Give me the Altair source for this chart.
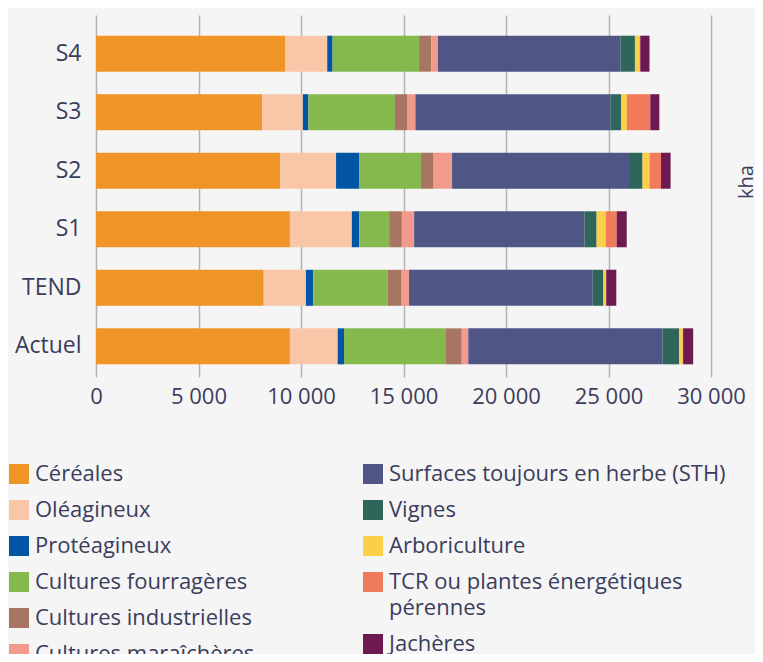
import altair as alt
import pandas as pd

scenarios = ["S4", "S3", "S2", "S1", "TEND", "Actuel"]
cultures = [
    "Céréales", "Oléagineux", "Protéagineux", "Cultures fourragères",
    "Cultures industrielles", "Cultures maraîchères",
    "Surfaces toujours en herbe (STH)", "Vignes", "Arboriculture",
    "TCR ou plantes énergétiques pérennes", "Jachères",
]
colors = ["#EF9528", "#F9C6A8", "#0055A4", "#86B94D", "#A87563", "#F29A8C",
          "#4F5585", "#2E6659", "#FAD04B", "#F07B5A", "#6D1A50"]

# values (kha) for S4, S3, S2, S1, TEND, Actuel
cereales = [9220, 8100, 8980, 9460, 8180, 9460]
oleagineux = [2060, 1990, 2730, 3020, 2060, 2330]
proteagineux = [260, 270, 1140, 360, 360, 310]
fourrageres = [4220, 4220, 3000, 1460, 3630, 4940]
industrielles = [600, 620, 620, 620, 680, 800]
maraicheres = [320, 380, 900, 600, 360, 320]
sth = [8910, 9510, 8630, 8310, 8960, 9480]
vignes = [700, 520, 660, 590, 520, 810]
arboriculture = [230, 290, 340, 440, 120, 170]
tcr = [30, 1140, 560, 540, 20, 20]
jacheres = [450, 440, 470, 490, 490, 490]

series = [cereales, oleagineux, proteagineux, fourrageres, industrielles,
          maraicheres, sth, vignes, arboriculture, tcr, jacheres]

rows = []
for i, (c, vals) in enumerate(zip(cultures, series)):
    for s, v in zip(scenarios, vals):
        rows.append({"scenario": s, "culture": c, "value": v, "idx": i,
                     "grp": "A" if i < 6 else "B"})
df = pd.DataFrame(rows)

FONT = "Open Sans"
TXT = "#3a3d5c"
W, H = 615, 362

x_enc = alt.X("x0:Q", scale=alt.Scale(domain=[0, 30000], nice=False),
              axis=alt.Axis(title=None, values=list(range(0, 30001, 5000)),
                            labelExpr="replace(format(datum.value, ','), ',', ' ')",
                            labelFlush=False, labelFontSize=22, labelFont=FONT,
                            labelColor=TXT, labelPadding=9, ticks=False,
                            domain=False, grid=True, gridColor="#b4b4b4",
                            gridWidth=1.5))
y_enc = alt.Y("scenario:N", sort=scenarios,
              scale=alt.Scale(paddingInner=0.385, paddingOuter=0.285, align=0.62),
              axis=alt.Axis(title=None, labelFontSize=23, labelFont=FONT,
                            labelColor=TXT, labelPadding=15, ticks=False,
                            domain=False,
                            labelExpr="length(datum.label) == 2 ? datum.label + '\u00a0\u2009' : datum.label"))

def layer(grp, names, cols, lx):
    return alt.Chart(df).transform_stack(
        stack="value", groupby=["scenario"], as_=["x0", "x1"],
        sort=[alt.SortField("idx", order="ascending")]
    ).transform_filter(alt.datum.grp == grp).mark_bar().encode(
        x=x_enc, x2="x1:Q", y=y_enc,
        color=alt.Color("culture:N",
                        scale=alt.Scale(domain=names, range=cols),
                        legend=alt.Legend(
                            title=None, orient="none", legendX=lx, legendY=448,
                            direction="vertical", symbolType="square",
                            symbolSize=400, symbolStrokeWidth=0,
                            labelFontSize=22, labelFont=FONT, labelColor=TXT,
                            labelOffset=5, labelLimit=500, rowPadding=14,
                            labelExpr="datum.label == 'TCR ou plantes énergétiques pérennes' ? ['TCR ou plantes énergétiques', 'pérennes'] : datum.label")),
    )

barsA = layer("A", cultures[:6], colors[:6], -88)
barsB = layer("B", cultures[6:], colors[6:], 266)

unit = alt.Chart(pd.DataFrame({"t": ["kha"]})).mark_text(
    angle=270, font=FONT, fontSize=20, color=TXT, align="center", baseline="middle"
).encode(text="t:N", x=alt.value(W + 36), y=alt.value(167))

chart = alt.layer(barsA, barsB, unit).resolve_scale(color="independent").properties(
    width=W, height=H,
    autosize=alt.AutoSizeParams(type="none"),
    padding={"left": 88, "top": 7, "right": 44, "bottom": 277},
    background="#f5f5f5",
).configure(
    style={"guide-label": {"lineHeight": 26}},
).configure_view(stroke=None)

chart.save("out.html", embed_options={"renderer": "svg", "actions": False})
